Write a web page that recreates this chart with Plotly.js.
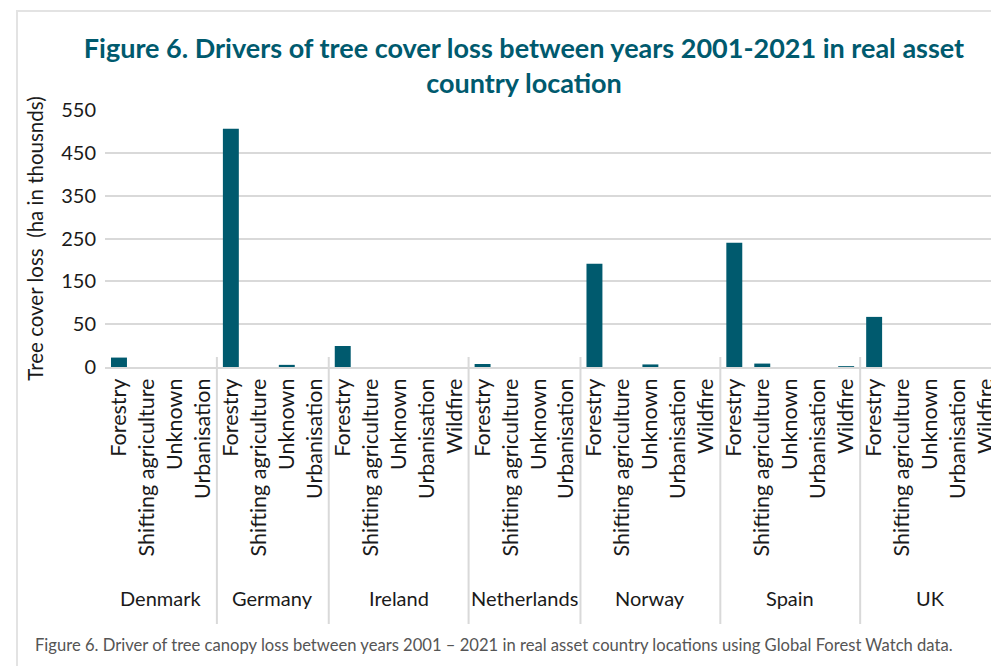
<!DOCTYPE html>
<html>
<head>
<meta charset="utf-8">
<script src="https://cdn.plot.ly/plotly-3.0.1.min.js"></script>
<style>
  html, body { margin: 0; padding: 0; background: #ffffff; overflow: hidden; }
  #wrap { position: relative; width: 991px; height: 666px; overflow: hidden; }
  #chart { position: absolute; left: 0; top: 0; }
  #frame { position: absolute; left: 16px; top: 10px; width: 1200px; height: 800px;
           border-top: 2px solid #e3e3e3; border-left: 2px solid #e3e3e3; pointer-events: none; }
</style>
</head>
<body>
<div id="wrap"><div id="chart"></div><div id="frame"></div></div>
<script>
// ---- data (values in axis units; the axis is labelled 0, 50, 150 ... 550 as in the source) ----
const countries = ['Denmark', 'Germany', 'Ireland', 'Netherlands', 'Norway', 'Spain', 'UK'];
const driversDenmark     = ['Forestry', 'Shifting agriculture', 'Unknown', 'Urbanisation'];
const driversGermany     = ['Forestry', 'Shifting agriculture', 'Unknown', 'Urbanisation'];
const driversIreland     = ['Forestry', 'Shifting agriculture', 'Unknown', 'Urbanisation', 'Wildfire'];
const driversNetherlands = ['Forestry', 'Shifting agriculture', 'Unknown', 'Urbanisation'];
const driversNorway      = ['Forestry', 'Shifting agriculture', 'Unknown', 'Urbanisation', 'Wildfire'];
const driversSpain       = ['Forestry', 'Shifting agriculture', 'Unknown', 'Urbanisation', 'Wildfire'];
const driversUK          = ['Forestry', 'Shifting agriculture', 'Unknown', 'Urbanisation', 'Wildfire'];
const lossDenmark     = [22, 0, 0, 0];
const lossGermany     = [556, 0, 5, 0];
const lossIreland     = [49, 0, 0, 0, 0];
const lossNetherlands = [7, 0, 0, 0];
const lossNorway      = [241, 0, 6, 0, 0];
const lossSpain       = [290, 8, 0, 0, 2];
const lossUK          = [117, 0, 0, 0, 0];
const yTickVals = [0, 100, 200, 300, 400, 500, 600];
const yTickText = ['0', '50', '150', '250', '350', '450', '550'];

const driverGroups = [driversDenmark, driversGermany, driversIreland, driversNetherlands, driversNorway, driversSpain, driversUK];
const lossGroups = [lossDenmark, lossGermany, lossIreland, lossNetherlands, lossNorway, lossSpain, lossUK];

// ---- build flat category axis ----
const xKeys = [], xText = [], yVals = [];
const groupStart = [], groupEnd = [];
countries.forEach((c, gi) => {
  groupStart.push(xKeys.length);
  driverGroups[gi].forEach((d, di) => {
    xKeys.push(c + ' | ' + d);
    xText.push(d);
    yVals.push(lossGroups[gi][di]);
  });
  groupEnd.push(xKeys.length - 1);
});

const FONT = 'Lato, "Noto Sans", sans-serif';
const TEAL = '#005a6e';
const GRID = '#d9d9d9';

const trace = {
  type: 'bar', x: xKeys, y: yVals,
  marker: { color: TEAL },
  hoverinfo: 'x+y'
};

const annotations = countries.map((c, gi) => ({
  text: c, xref: 'x', yref: 'paper',
  x: (groupStart[gi] + groupEnd[gi]) / 2, y: -0.899,
  xanchor: 'center', yanchor: 'middle', showarrow: false,
  font: { family: FONT, size: 20, color: '#1a1a1a' }
}));
annotations.push({
  text: 'Figure 6. Driver of tree canopy loss between years 2001 – 2021 in real asset country locations using Global Forest Watch data.',
  xref: 'paper', yref: 'paper', x: -0.0804, y: -1.082,
  xanchor: 'left', yanchor: 'middle', showarrow: false,
  font: { family: FONT, size: 16.6, color: '#555555' }
});

const shapes = groupStart.slice(1).map(s => ({
  type: 'line', xref: 'x', yref: 'paper',
  x0: s - 0.5, x1: s - 0.5, y0: 0.039, y1: -1.0,
  line: { color: GRID, width: 2 }
}));

const layout = {
  width: 1010, height: 666,
  margin: { l: 105, r: 10, t: 110, b: 299 },
  paper_bgcolor: '#ffffff', plot_bgcolor: '#ffffff',
  showlegend: false,
  bargap: 0.43,
  title: {
    text: 'Figure 6. Drivers of tree cover loss between years 2001-2021 in real asset<br>country location',
    font: { family: FONT, size: 27, color: TEAL, weight: 'bold' },
    xref: 'container', yref: 'container', x: 524 / 1010, xanchor: 'center',
    y: 1 - 58 / 666, yanchor: 'top'
  },
  xaxis: {
    type: 'category', tickmode: 'array', tickvals: xKeys, ticktext: xText,
    tickangle: -90, ticks: '', showgrid: false, zeroline: false,
    showline: true, linecolor: GRID, linewidth: 2,
    tickfont: { family: FONT, size: 21.5, color: '#1a1a1a' },
    ticklabelstandoff: 1,
    range: [-0.5, xKeys.length - 0.5], fixedrange: true
  },
  yaxis: {
    range: [0, 600], tickmode: 'array', tickvals: yTickVals, ticktext: yTickText,
    showgrid: true, gridcolor: GRID, gridwidth: 2, zeroline: false, showline: false,
    ticks: '', tickfont: { family: FONT, size: 20, color: '#1a1a1a' },
    ticklabelstandoff: 8,
    title: { text: 'Tree cover loss  (ha in thousnds)', standoff: 12,
             font: { family: FONT, size: 20.5, color: '#1a1a1a' } },
    fixedrange: true
  },
  annotations: annotations,
  shapes: shapes
};

Plotly.newPlot('chart', [trace], layout, { displayModeBar: false, staticPlot: true });
</script>
</body>
</html>
